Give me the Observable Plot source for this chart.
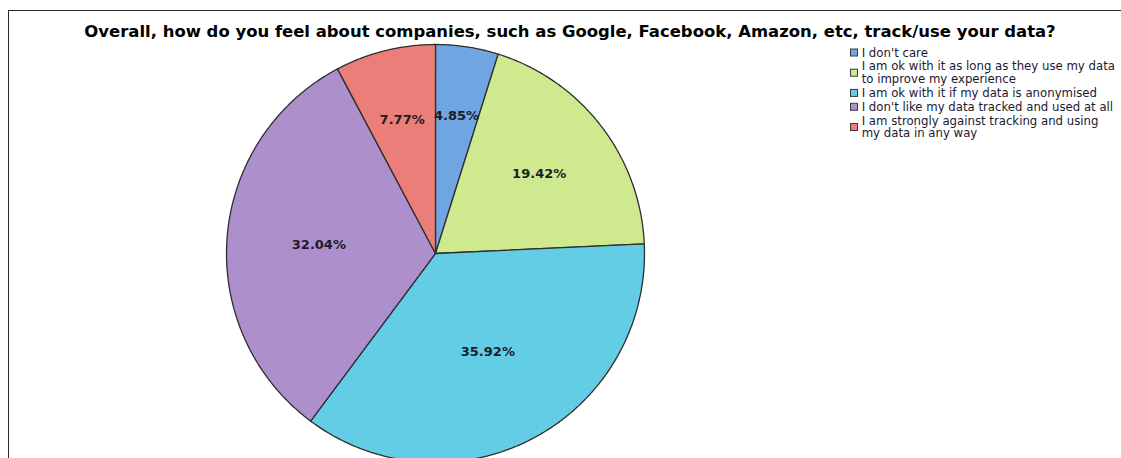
<!DOCTYPE html>
<html><head><meta charset="utf-8">
<script src="https://cdn.jsdelivr.net/npm/d3@7"></script>
<script src="https://cdn.jsdelivr.net/npm/@observablehq/plot@0.6"></script>
<style>
html,body{margin:0;padding:0;background:#fff;overflow:hidden;}
#wrap{position:relative;width:1121px;height:458px;overflow:hidden;background:#fff;}
#chart{position:absolute;left:0;top:0;}
#frame{position:absolute;left:8px;top:10px;right:-5px;bottom:-5px;border-top:1.5px solid #2a2a2a;border-left:1.5px solid #2a2a2a;pointer-events:none;}
#overlay{position:absolute;left:0;top:0;}
</style></head><body>
<div id="wrap"><div id="chart"></div><div id="frame"></div><svg id="overlay" width="1121" height="458"></svg></div>
<script>
const title = "Overall, how do you feel about companies, such as Google, Facebook, Amazon, etc, track/use your data?";
const categories = [
  "I don't care",
  "I am ok with it as long as they use my data to improve my experience",
  "I am ok with it if my data is anonymised",
  "I don't like my data tracked and used at all",
  "I am strongly against tracking and using my data in any way"
];
const legendLines = [
  ["I don't care"],
  ["I am ok with it as long as they use my data", "to improve my experience"],
  ["I am ok with it if my data is anonymised"],
  ["I don't like my data tracked and used at all"],
  ["I am strongly against tracking and using", "my data in any way"]
];
const percents = [4.85, 19.42, 35.92, 32.04, 7.77];
const percentLabels = ["4.85%", "19.42%", "35.92%", "32.04%", "7.77%"];
const colors = ["#6fa6e2", "#cfe98f", "#63cde6", "#ad8fcb", "#ec7e79"];

const FONT = "'DejaVu Sans', 'Noto Sans', sans-serif";

// geometry of the pie (pixel layout)
const W = 1121, H = 458, cx = 435, cy = 253, R = 209;
const mTop = cy - R, mLeft = cx - R, mRight = W - (cx + R);

// build slice outlines in unit-circle coordinates from the percentages
const total = d3.sum(percents);
const poly = [];
const labels = [];
let acc = 0;
categories.forEach((cat, i) => {
  const a0 = acc / total * 2 * Math.PI;
  acc += percents[i];
  const a1 = acc / total * 2 * Math.PI;
  poly.push({cat, x: 0, y: 0});
  const n = Math.max(2, Math.ceil((a1 - a0) / (Math.PI / 360)));
  for (let k = 0; k <= n; k++) {
    const a = a0 + (a1 - a0) * k / n;
    poly.push({cat, x: Math.sin(a), y: Math.cos(a)});
  }
  // sector centroid
  const half = (a1 - a0) / 2, mid = a0 + half;
  const rc = (2 / 3) * Math.sin(half) / half;
  labels.push({cat, text: percentLabels[i], x: rc * Math.sin(mid), y: rc * Math.cos(mid)});
});

const chart = Plot.plot({
  width: W, height: H,
  marginLeft: mLeft, marginRight: mRight, marginTop: mTop, marginBottom: 0,
  x: {domain: [-1, 1], axis: null},
  y: {domain: [1 - (H - mTop) / R, 1], axis: null},
  color: {domain: categories, range: colors},
  style: {background: "transparent", overflow: "hidden"},
  marks: [
    Plot.line(poly, {x: "x", y: "y", z: "cat", fill: "cat", stroke: "#2e2e2e", strokeWidth: 1.3, strokeLinejoin: "round", curve: "linear-closed"}),
    Plot.text(labels, {x: "x", y: "y", text: "text", fontWeight: "bold", fontSize: 13, fill: "#1c1c28", fontFamily: FONT})
  ]
});
document.getElementById("chart").append(chart);

// title and legend overlay
const ctx = document.createElement("canvas").getContext("2d");
function fit(text, weight, family, target) {
  ctx.font = `${weight} 100px ${family}`;
  return 100 * target / ctx.measureText(text).width;
}
const svg = d3.select("#overlay");
const tSize = fit(title, "bold", FONT, 972);
svg.append("text").attr("x", 570).attr("y", 37).attr("text-anchor", "middle")
  .attr("font-family", FONT).attr("font-weight", "bold").attr("font-size", tSize)
  .attr("fill", "#000").text(title);

const lSize = fit("I don't like my data tracked and used at all", "normal", FONT, 251.5);
let base = 56.5;
const lineGap = 12.6, itemGap = 13.9;
legendLines.forEach((lines, i) => {
  const first = base, last = base + (lines.length - 1) * lineGap;
  const mid = (first + last) / 2 - 4;
  svg.append("rect").attr("x", 850.5).attr("y", mid - 3.5).attr("width", 7).attr("height", 7)
    .attr("fill", colors[i]).attr("stroke", "#3a3a3a").attr("stroke-width", 1);
  lines.forEach((ln, j) => {
    svg.append("text").attr("x", 861.7).attr("y", base + j * lineGap)
      .attr("font-family", FONT).attr("font-size", lSize).attr("fill", "#1a1a33").text(ln);
  });
  base = last + itemGap;
});
</script>
</body></html>
